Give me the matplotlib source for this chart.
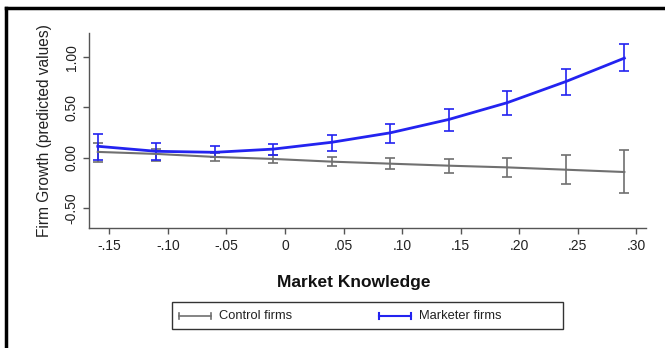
import matplotlib.pyplot as plt
from matplotlib.lines import Line2D
from matplotlib.patches import Rectangle

plt.rcParams['font.family'] = ['Liberation Sans', 'DejaVu Sans']

# Predicted firm growth by market knowledge
knowledge = [-0.16, -0.11, -0.06, -0.01, 0.04, 0.09, 0.14, 0.19, 0.24, 0.29]

control = [0.057, 0.037, 0.007, -0.013, -0.04, -0.06, -0.08, -0.097, -0.12, -0.143]
control_lo = [-0.043, -0.03, -0.037, -0.053, -0.083, -0.113, -0.15, -0.197, -0.263, -0.353]
control_hi = [0.147, 0.087, 0.047, 0.03, 0.007, -0.007, -0.013, -0.003, 0.023, 0.073]

marketer = [0.113, 0.063, 0.053, 0.085, 0.153, 0.247, 0.38, 0.547, 0.757, 0.99]
marketer_lo = [-0.02, -0.02, 0.007, 0.023, 0.07, 0.147, 0.267, 0.423, 0.623, 0.857]
marketer_hi = [0.237, 0.147, 0.117, 0.14, 0.223, 0.337, 0.487, 0.663, 0.88, 1.13]

xticks = [-0.15, -0.10, -0.05, 0, 0.05, 0.10, 0.15, 0.20, 0.25, 0.30]
xticklabels = ['-.15', '-.10', '-.05', '0', '.05', '.10', '.15', '.20', '.25', '.30']
yticks = [-0.5, 0, 0.5, 1.0]
yticklabels = ['-0.50', '0.00', '0.50', '1.00']
series_names = ['Control firms', 'Marketer firms']

W, H = 665, 348
fig = plt.figure(figsize=(W / 100, H / 100), dpi=100)
ax = fig.add_axes([89 / W, (H - 228) / H, (646 - 89) / W, (228 - 33) / H])

gray = '#707070'
blue = '#2323f0'

def draw(y, lo, hi, color, lw):
    ax.plot(knowledge, y, color=color, lw=lw, zorder=3)
    err = [[v - l for v, l in zip(y, lo)], [h - v for v, h in zip(y, hi)]]
    ax.errorbar(knowledge, y, yerr=err, fmt='none', ecolor=color,
                elinewidth=1.2, capsize=3.5, capthick=1.2, zorder=2)

draw(control, control_lo, control_hi, gray, 1.5)
draw(marketer, marketer_lo, marketer_hi, blue, 2.0)

ax.set_xlim(-0.1675, 0.3085)
ax.set_ylim(-0.70, 1.24)
ax.set_xticks(xticks)
ax.set_xticklabels(xticklabels)
ax.set_yticks(yticks)
ax.set_yticklabels(yticklabels, rotation=90, va='center')

for side in ['top', 'right']:
    ax.spines[side].set_visible(False)
for side in ['left', 'bottom']:
    ax.spines[side].set_color('#555555')
    ax.spines[side].set_linewidth(1.0)
ax.tick_params(colors='#555555', labelcolor='#222222', labelsize=10,
               length=4, width=1.0)
ax.tick_params(axis='x', pad=4)

ax.set_ylabel('Firm Growth (predicted values)', fontsize=11.2, color='#222222',
              labelpad=9)
fig.text(354 / W, 1 - 283 / H, 'Market Knowledge', fontsize=12.5,
         fontweight='bold', ha='center', va='center', color='#111111')

# legend box, drawn by hand in pixel units
def px(x, y):
    return x / W, 1 - y / H

x0, y0 = px(172, 329)
x1, y1 = px(563, 302)
fig.add_artist(Rectangle((x0, y0), x1 - x0, y1 - y0, transform=fig.transFigure,
                         fill=False, edgecolor='#333333', lw=1.0))
ymid = px(0, 316)[1]
for name, color, lw, hx in zip(series_names, [gray, blue], [1.2, 1.5], [179, 379]):
    xa, xb = hx / W, (hx + 32) / W
    fig.add_artist(Line2D([xa, xb], [ymid, ymid], color=color, lw=lw,
                          transform=fig.transFigure))
    for xe in (xa, xb):
        fig.add_artist(Line2D([xe, xe], [ymid - 3 / H, ymid + 3 / H], color=color,
                              lw=lw, transform=fig.transFigure))
    fig.text((hx + 40) / W, ymid, name, fontsize=9.3, va='center', ha='left',
             color='#222222')

# outer frame on top and left
fig.add_artist(Line2D([6 / W, 1], [1 - 8 / H, 1 - 8 / H], color='black',
                      lw=2.5, transform=fig.transFigure))
fig.add_artist(Line2D([6 / W, 6 / W], [0, 1 - 8 / H], color='black',
                      lw=2.5, transform=fig.transFigure))

fig.savefig('out.png', dpi=100)
